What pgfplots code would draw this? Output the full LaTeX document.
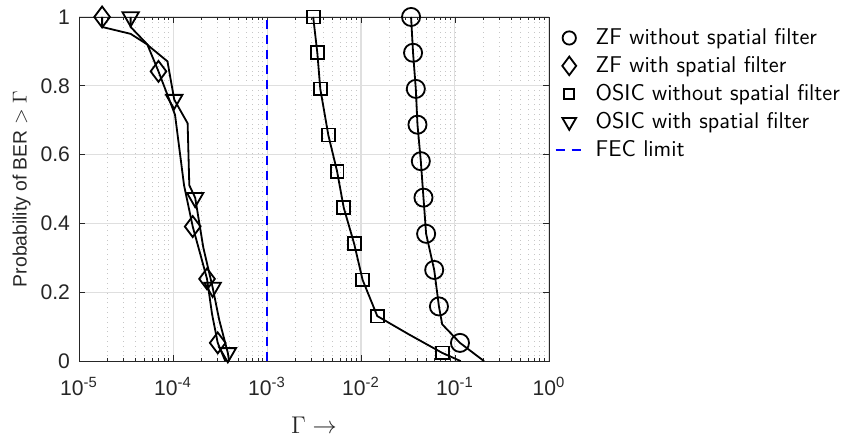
\documentclass[border=0pt]{standalone}
\usepackage{fontspec}
\setmainfont{Liberation Sans}
\usepackage{pgfplots}
\pgfplotsset{compat=1.18}
\definecolor{axgray}{RGB}{38,38,38}
\pgfplotsset{
  legmark/.style={legend image code/.code={
    \draw[##1, mark size=#1] plot coordinates {(0.3cm,0cm)};}},
  legdash/.style={legend image code/.code={
    \draw[blue, line width=0.9pt, dash pattern=on 4.5pt off 3.5pt] (0.06cm,0cm) -- (0.535cm,0cm);}},
}
\begin{document}
\begin{tikzpicture}
\begin{semilogxaxis}[
  scale only axis, width=233.5pt, height=171pt,
  xmin=1e-5, xmax=1, ymin=0, ymax=1,
  xtick={1e-5,1e-4,1e-3,1e-2,1e-1,1},
  xticklabels={10\textsuperscript{-5},10\textsuperscript{-4},10\textsuperscript{-3},10\textsuperscript{-2},10\textsuperscript{-1},10\textsuperscript{0}},
  ytick={0,0.2,0.4,0.6,0.8,1},
  yticklabels={0,0.2,0.4,0.6,0.8,1},
  tick label style={font=\fontsize{10.5}{12}\selectfont, text=axgray},
  xticklabel style={yshift=-4.5pt},
  yticklabel style={xshift=-1pt},
  axis line style={axgray},
  every tick/.style={axgray},
  major tick length=3pt, minor tick length=1.6pt,
  xmajorgrids, xminorgrids, ymajorgrids,
  major grid style={gray!25, line width=0.5pt},
  minor grid style={gray!45, dotted, line width=0.4pt},
  xlabel={$\Gamma\rightarrow$},
  xlabel style={font=\fontsize{12}{14}\selectfont, text=axgray, yshift=-3.5pt},
  ylabel={Probability of BER $>\Gamma$},
  ylabel style={font=\fontsize{9.6}{11}\selectfont, text=axgray, yshift=-2pt},
  clip=false,
  legend cell align=left,
  legend style={at={(1,1)}, anchor=north west, xshift=-0.4pt, yshift=-1.5pt,
    draw=none, fill=none, row sep=0.4pt,
    /tikz/column 1/.style={column sep=4pt},
    font=\sffamily\fontsize{11.3}{13}\selectfont},
]
% curves
\addplot[black, line width=0.9pt, forget plot] coordinates {
  (3.41e-2,1.0)(3.58e-2,0.896)(3.83e-2,0.791)(3.99e-2,0.687)(4.33e-2,0.581)
  (4.62e-2,0.475)(4.93e-2,0.370)(6.01e-2,0.265)(6.75e-2,0.159)(7.31e-2,0.107)
  (0.113,0.053)(0.204,0)};
\addplot[black, line width=0.9pt, forget plot] coordinates {
  (1.76e-5,1.0)(1.76e-5,0.971)(3.54e-5,0.951)(5.33e-5,0.920)(7.0e-5,0.842)
  (1.05e-4,0.716)(1.31e-4,0.511)(1.62e-4,0.391)(2.0e-4,0.30)(2.30e-4,0.239)
  (2.6e-4,0.137)(2.99e-4,0.053)(3.6e-4,0)};
\addplot[black, line width=0.9pt, forget plot] coordinates {
  (3.10e-3,1.0)(3.43e-3,0.896)(3.69e-3,0.791)(4.49e-3,0.657)(5.56e-3,0.552)
  (6.55e-3,0.446)(8.46e-3,0.341)(1.04e-2,0.236)(1.49e-2,0.131)(3.22e-2,0.078)
  (7.31e-2,0.024)(0.115,0)};
\addplot[black, line width=0.9pt, forget plot] coordinates {
  (3.54e-5,1.0)(3.54e-5,0.971)(5.56e-5,0.915)(8.73e-5,0.871)(1.03e-4,0.760)
  (1.43e-4,0.691)(1.49e-4,0.511)(1.72e-4,0.475)(2.1e-4,0.33)(2.64e-4,0.214)
  (3.1e-4,0.12)(3.83e-4,0.024)(3.95e-4,0)};
% markers
\addplot[black, only marks, mark=o, mark size=4.5pt, line width=0.9pt, legmark=3.3pt]
  coordinates {
  (3.41e-2,1.0)(3.58e-2,0.896)(3.83e-2,0.791)(3.99e-2,0.687)(4.33e-2,0.581)
  (4.62e-2,0.475)(4.93e-2,0.370)(6.01e-2,0.265)(6.75e-2,0.159)(0.113,0.053)};
\addlegendentry{ZF without spatial filter}
\addplot[black, only marks, mark=diamond, mark size=5.2pt, line width=0.9pt, legmark=4.6pt]
  coordinates {
  (1.76e-5,1.0)(7.0e-5,0.842)(1.62e-4,0.391)(2.30e-4,0.239)(2.99e-4,0.053)};
\addlegendentry{ZF with spatial filter}
\addplot[black, only marks, mark=square, mark size=3.2pt, line width=0.9pt, legmark=2.5pt]
  coordinates {
  (3.10e-3,1.0)(3.43e-3,0.896)(3.69e-3,0.791)(4.49e-3,0.657)(5.56e-3,0.552)
  (6.55e-3,0.446)(8.46e-3,0.341)(1.04e-2,0.236)(1.49e-2,0.131)(7.31e-2,0.024)};
\addlegendentry{OSIC without spatial filter}
\addplot[black, only marks, mark=triangle, mark size=4.7pt, line width=0.9pt,
  mark options={rotate=180}, legmark=3.9pt]
  coordinates {
  (3.54e-5,1.0)(1.03e-4,0.760)(1.72e-4,0.475)(2.64e-4,0.214)(3.83e-4,0.024)};
\addlegendentry{OSIC with spatial filter}
\addplot[blue, line width=0.9pt, dash pattern=on 4.5pt off 3pt, legdash]
  coordinates {(1e-3,0)(1e-3,1)};
\addlegendentry{FEC limit}
\end{semilogxaxis}
% margins as in the reference
\path ([xshift=-3pt,yshift=1.5pt]current bounding box.north west)
  -- ([xshift=2pt,yshift=-1pt]current bounding box.south east);
\end{tikzpicture}
\end{document}
